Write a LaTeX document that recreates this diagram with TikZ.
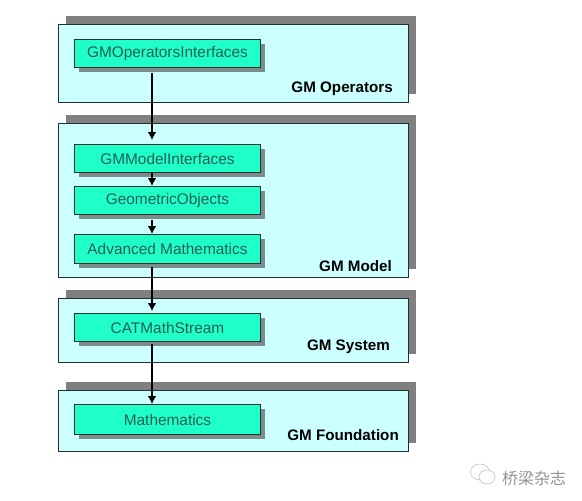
\documentclass[tikz,border=0pt]{standalone}
\usepackage{fontspec}
\setmainfont{Liberation Sans}
\newfontfamily\cjkfont{Noto Sans CJK SC}
\usepackage{xcolor}
\definecolor{layerfill}{HTML}{CCFFFF}
\definecolor{boxfill}{HTML}{1FFFC8}
\definecolor{boxtext}{HTML}{1F5F58}
\definecolor{layerline}{HTML}{20302F}
\definecolor{shadowgray}{HTML}{808080}
\definecolor{boxshadow}{HTML}{7A8C8C}
\tikzset{
  layerbox/.style={draw=layerline,line width=1pt,fill=layerfill,minimum width=350pt,inner sep=0pt,anchor=north west},
  layershadow/.style={fill=shadowgray,minimum width=350pt,inner sep=0pt,anchor=north west},
  classbox/.style={draw=layerline,line width=1pt,fill=boxfill,minimum width=186pt,inner sep=0pt,anchor=north west,text=boxtext,font=\fontsize{15.4}{17}\selectfont},
  classshadow/.style={fill=boxshadow,minimum width=186pt,inner sep=0pt,anchor=north west},
  layerlabel/.style={anchor=east,inner sep=0pt,font=\fontsize{15.2}{17}\selectfont\bfseries},
  flow/.style={-{Latex[length=8pt,width=9pt]},line width=2.2pt,black}
}
\usetikzlibrary{arrows.meta}
\begin{document}
\begin{tikzpicture}[x=1pt,y=-1pt]
\useasboundingbox (0,0) rectangle (582,501);
% layers
\foreach \name/\top/\high in {operators/24/78, model/123/154, system/298/64, foundation/390/61}{
  \node[layershadow,minimum height=\high pt] (\name shadow) at (66,\top-8) {};
  \node[layerbox,minimum height=\high pt] (\name) at (58,\top) {};
}
% classes
\foreach \name/\top/\high/\txt in {opif/39/28/GMOperatorsInterfaces, modelif/144/28/GMModelInterfaces, geom/186/28/GeometricObjects, advmath/234/29/Advanced Mathematics, stream/313/28/CATMathStream, maths/404/30/Mathematics}{
  \node[classshadow,minimum height=\high pt] (\name shadow) at (79,\top+5) {};
  \node[classbox,minimum height=\high pt] (\name) at (74,\top) {\txt};
}
\node[layerlabel] (oplabel) at (393,89) {GM Operators};
\node[layerlabel] (modellabel) at (392,266) {GM Model};
\node[layerlabel] (syslabel) at (390,347) {GM System};
\node[layerlabel] (foundlabel) at (399,435) {GM Foundation};
% arrows
\coordinate (spine) at (152,0);
\draw[flow,shorten <=5pt,shorten >=4pt] (opif.south -| spine) -- (modelif.north -| spine);
\draw[flow] (modelif.south -| spine) -- (geom.north -| spine);
\draw[flow,shorten <=5pt] (geom.south -| spine) -- (advmath.north -| spine);
\draw[flow,shorten <=3pt,shorten >=2pt] (advmath.south -| spine) -- (stream.north -| spine);
\draw[flow,shorten <=2pt] (stream.south -| spine) -- (maths.north -| spine);
% watermark
\draw[gray!45,line width=0.7pt,fill=white] (480,472) ellipse (9.5pt and 8pt);
\draw[gray!45,line width=0.7pt,fill=white] (487,477) ellipse (8pt and 7pt);
\node[anchor=west,inner sep=0pt,text=gray!85,font=\cjkfont\fontsize{16}{18}\selectfont] (mark) at (502,478) {桥梁杂志};
\end{tikzpicture}
\end{document}
